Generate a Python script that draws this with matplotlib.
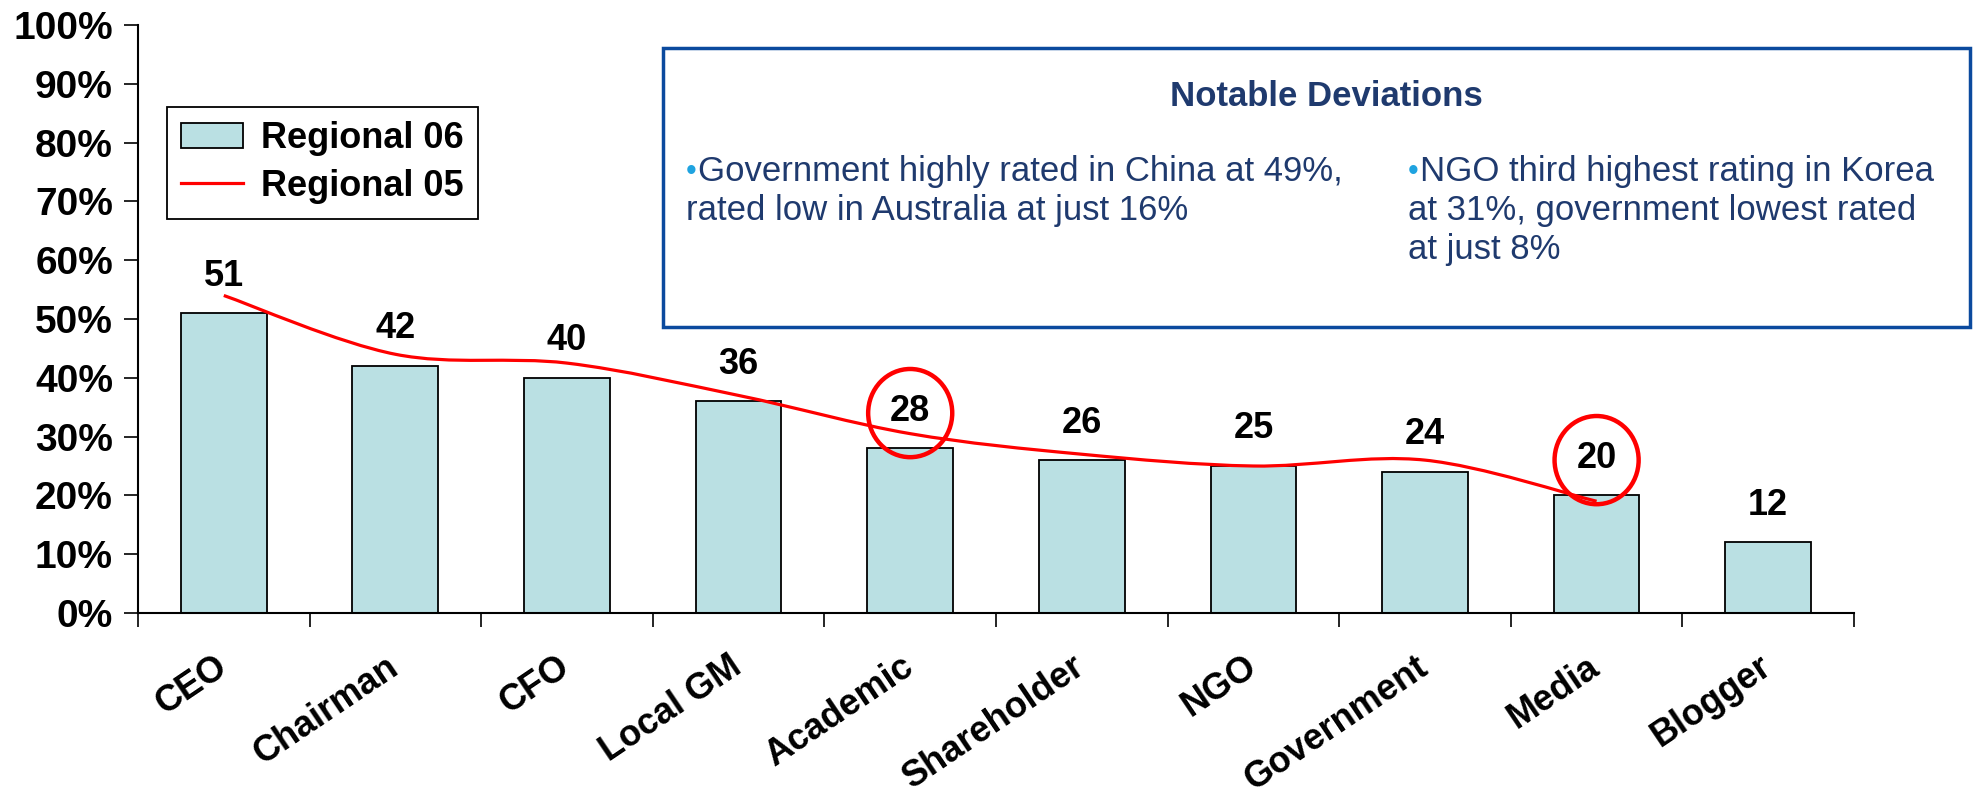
import numpy as np
import matplotlib
matplotlib.use("Agg")
import matplotlib.pyplot as plt
import matplotlib.transforms as mtransforms
from matplotlib.path import Path
from matplotlib.patches import PathPatch, Ellipse, Rectangle
from matplotlib.lines import Line2D

plt.rcParams["font.family"] = ["Liberation Sans", "DejaVu Sans"]

categories = ["CEO", "Chairman", "CFO", "Local GM", "Academic",
              "Shareholder", "NGO", "Government", "Media", "Blogger"]
regional_06 = [51, 42, 40, 36, 28, 26, 25, 24, 20, 12]
regional_05 = [54, 44, 42.5, 37, 30.5, 27, 25, 26, 19]
circled = ["Academic", "Media"]

box_title = "Notable Deviations"
note_left = ["Government highly rated in China at 49%,",
             "rated low in Australia at just 16%"]
note_right = ["NGO third highest rating in Korea",
              "at 31%, government lowest rated",
              "at just 8%"]

BAR_COLOR = "#BAE0E3"
NAVY = "#1F3A6E"
BULLET = "#1FA3E0"
BOX_EDGE = "#0B4A9E"


def smooth_path(xs, ys):
    # Excel-style smoothed line: Catmull-Rom segments as cubic Beziers
    pts = np.column_stack([xs, ys]).astype(float)
    n = len(pts)
    verts = [pts[0]]
    codes = [Path.MOVETO]
    for i in range(n - 1):
        p0 = pts[i - 1] if i > 0 else pts[i]
        p1 = pts[i]
        p2 = pts[i + 1]
        p3 = pts[i + 2] if i + 2 < n else pts[i + 1]
        c1 = p1 + (p2 - p0) / 6.0
        c2 = p2 - (p3 - p1) / 6.0
        verts += [c1, c2, p2]
        codes += [Path.CURVE4] * 3
    return Path(verts, codes)


fig = plt.figure(figsize=(19.74, 7.97), dpi=100)
ax = fig.add_axes([138 / 1974, 1 - 613 / 797, (1854 - 138) / 1974, (613 - 25) / 797])

x = np.arange(len(categories))
ax.bar(x, regional_06, width=0.5, color=BAR_COLOR, edgecolor="black",
       linewidth=1.3, zorder=2)

line_path = smooth_path(x[:len(regional_05)], regional_05)
ax.add_patch(PathPatch(line_path, facecolor="none", edgecolor="red",
                       linewidth=2.3, zorder=3))

for xi, v in zip(x, regional_06):
    ax.text(xi, v + 6.3, str(v), ha="center", va="center",
            fontsize=26, fontweight="bold", zorder=4)

for name in circled:
    i = categories.index(name)
    v = regional_06[i]
    ax.add_patch(Ellipse((i, v + 6.0), 0.49, 15.0, facecolor="none",
                         edgecolor="red", linewidth=3.2, zorder=5))

ax.set_xlim(-0.5, len(categories) - 0.5)
ax.set_ylim(0, 100)
ax.set_yticks(np.arange(0, 101, 10))
ax.set_yticklabels([f"{t}%" for t in range(0, 101, 10)])
ax.tick_params(axis="y", direction="out", length=10, width=1.2,
               labelsize=28, pad=8)
for lbl in ax.get_yticklabels():
    lbl.set_fontweight("bold")

ax.set_xticks(x)
ax.set_xticklabels(categories, rotation=34, ha="right",
                   rotation_mode="anchor", fontsize=26, fontweight="bold")
ax.tick_params(axis="x", which="major", length=0, pad=26)
shift = mtransforms.ScaledTranslation(-10 / 100, 0, fig.dpi_scale_trans)
for lbl in ax.get_xticklabels():
    lbl.set_transform(lbl.get_transform() + shift)
ax.set_xticks(np.arange(-0.5, len(categories), 1.0), minor=True)
ax.tick_params(axis="x", which="minor", direction="out", length=10, width=1.2)

for side in ["top", "right"]:
    ax.spines[side].set_visible(False)
for side in ["left", "bottom"]:
    ax.spines[side].set_linewidth(1.5)

handles = [Rectangle((0, 0), 1, 1, facecolor=BAR_COLOR, edgecolor="black", linewidth=1.3),
           Line2D([], [], color="red", linewidth=2.3)]
leg = fig.legend(handles, ["Regional 06", "Regional 05"], loc="upper left",
                 bbox_to_anchor=(167 / 1974, 1 - 107 / 797), borderaxespad=0,
                 fancybox=False, edgecolor="black", framealpha=1,
                 prop={"size": 26, "weight": "bold"}, handlelength=1.7,
                 handletextpad=0.5, labelspacing=0.35, borderpad=0.4)
leg.get_frame().set_linewidth(1.3)

# notes box
W, H = 1974, 797
fig.patches.append(Rectangle((663 / W, 1 - 327 / H), (1970 - 663) / W, (327 - 48) / H,
                             transform=fig.transFigure, facecolor="white",
                             edgecolor=BOX_EDGE, linewidth=2.5, zorder=1))
fig.text(1326 / W, 1 - 97 / H, box_title, ha="center", va="center",
         fontsize=25, fontweight="bold", color=NAVY)


def bullet_block(x0, y0, lines):
    fig.text(x0 / W, 1 - y0 / H, "•", ha="left", va="center", fontsize=22, color=BULLET)
    for k, line in enumerate(lines):
        xx = x0 + 12 if k == 0 else x0
        fig.text(xx / W, 1 - (y0 + 38.5 * k) / H, line, ha="left", va="center",
                 fontsize=25, color=NAVY)


bullet_block(686, 172, note_left)
bullet_block(1408, 172, note_right)

fig.savefig("out.png", dpi=100)
